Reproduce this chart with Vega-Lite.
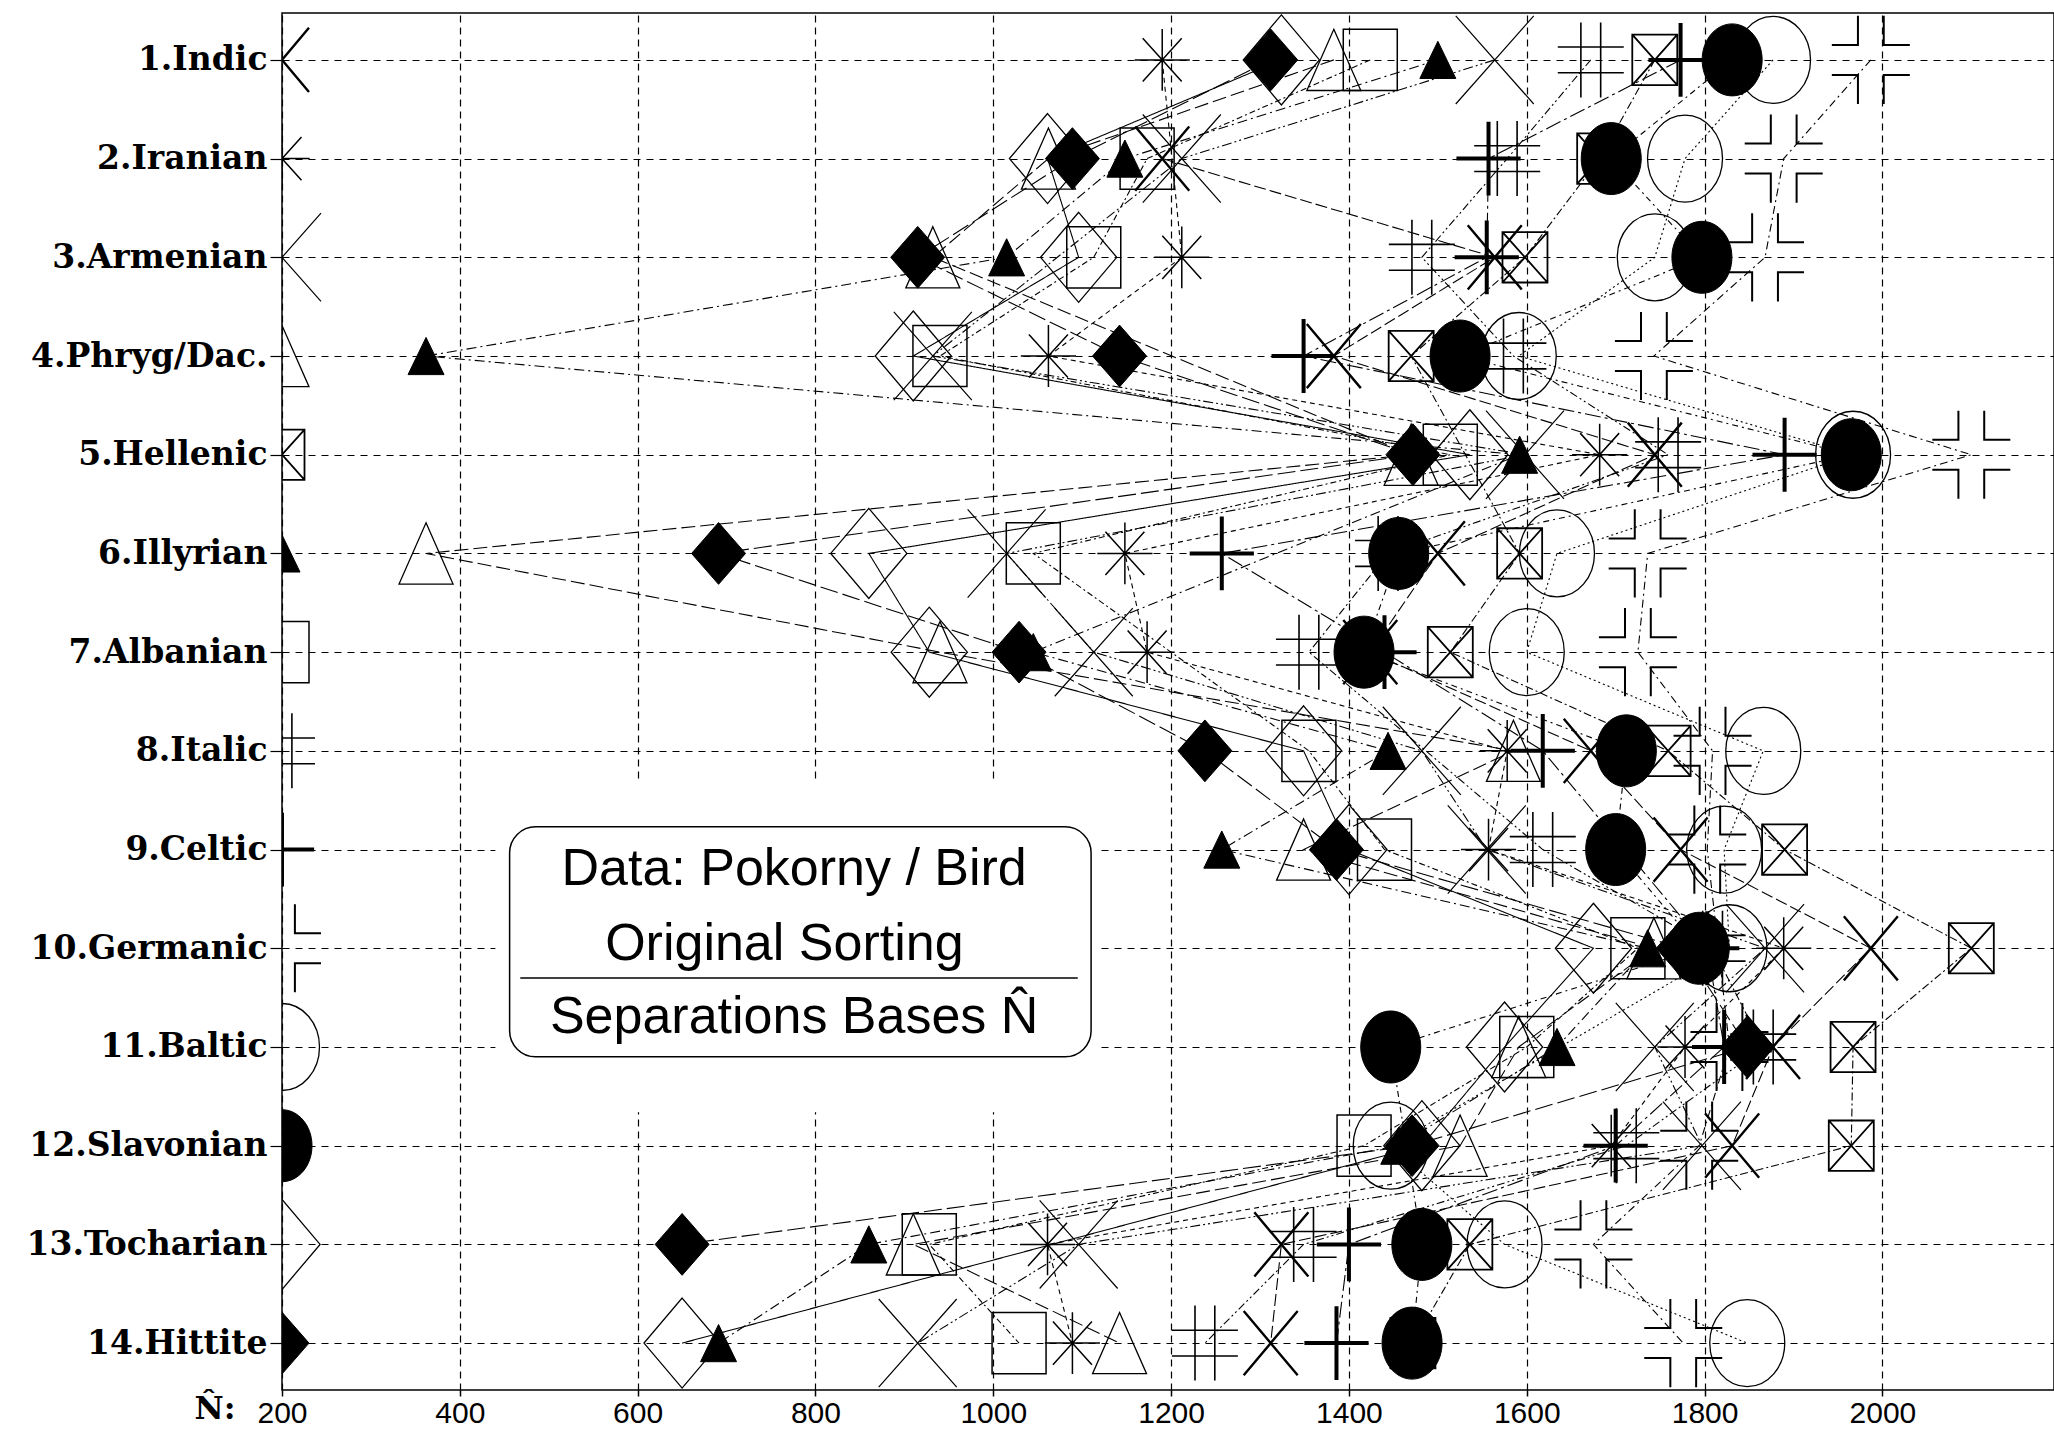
{
"$schema":"https://vega.github.io/schema/vega-lite/v6.json",
"width":1772,"height":1377,
"autosize":{"type":"none"},
"padding":{"left":282,"top":13,"right":0,"bottom":40},
"background":"white",
"config":{"view":{"stroke":"black","strokeWidth":1.5},"font":"Liberation Sans"},
"datasets":{"pts":[
{"ri":1,"s":"Indic","v":200},{"ri":1,"s":"Iranian","v":1190},{"ri":1,"s":"Armenian","v":1564},{"ri":1,"s":"Phryg","v":1383},{"ri":1,"s":"Hellenic","v":1744},{"ri":1,"s":"Illyrian","v":1500},{"ri":1,"s":"Albanian","v":1424},{"ri":1,"s":"Italic","v":1672},{"ri":1,"s":"Celtic","v":1773},{"ri":1,"s":"Germanic","v":1987},{"ri":1,"s":"Baltic","v":1877},{"ri":1,"s":"Slavonian","v":1831},{"ri":1,"s":"Tocharian","v":1324},{"ri":1,"s":"Hittite","v":1312},
{"ri":2,"s":"Indic","v":1190},{"ri":2,"s":"Iranian","v":200},{"ri":2,"s":"Armenian","v":1212},{"ri":2,"s":"Phryg","v":1062},{"ri":2,"s":"Hellenic","v":1682},{"ri":2,"s":"Illyrian","v":1148},{"ri":2,"s":"Albanian","v":1173},{"ri":2,"s":"Italic","v":1578},{"ri":2,"s":"Celtic","v":1557},{"ri":2,"s":"Germanic","v":1889},{"ri":2,"s":"Baltic","v":1778},{"ri":2,"s":"Slavonian","v":1695},{"ri":2,"s":"Tocharian","v":1061},{"ri":2,"s":"Hittite","v":1089},
{"ri":3,"s":"Indic","v":1564},{"ri":3,"s":"Iranian","v":1212},{"ri":3,"s":"Armenian","v":200},{"ri":3,"s":"Phryg","v":932},{"ri":3,"s":"Hellenic","v":1598},{"ri":3,"s":"Illyrian","v":1015},{"ri":3,"s":"Albanian","v":1113},{"ri":3,"s":"Italic","v":1482},{"ri":3,"s":"Celtic","v":1555},{"ri":3,"s":"Germanic","v":1868},{"ri":3,"s":"Baltic","v":1744},{"ri":3,"s":"Slavonian","v":1797},{"ri":3,"s":"Tocharian","v":1096},{"ri":3,"s":"Hittite","v":915},
{"ri":4,"s":"Indic","v":1383},{"ri":4,"s":"Iranian","v":1062},{"ri":4,"s":"Armenian","v":932},{"ri":4,"s":"Phryg","v":200},{"ri":4,"s":"Hellenic","v":1470},{"ri":4,"s":"Illyrian","v":362},{"ri":4,"s":"Albanian","v":940},{"ri":4,"s":"Italic","v":1585},{"ri":4,"s":"Celtic","v":1349},{"ri":4,"s":"Germanic","v":1743},{"ri":4,"s":"Baltic","v":1591},{"ri":4,"s":"Slavonian","v":1525},{"ri":4,"s":"Tocharian","v":910},{"ri":4,"s":"Hittite","v":1142},
{"ri":5,"s":"Indic","v":1744},{"ri":5,"s":"Iranian","v":1682},{"ri":5,"s":"Armenian","v":1598},{"ri":5,"s":"Phryg","v":1470},{"ri":5,"s":"Hellenic","v":200},{"ri":5,"s":"Illyrian","v":1592},{"ri":5,"s":"Albanian","v":1514},{"ri":5,"s":"Italic","v":1759},{"ri":5,"s":"Celtic","v":1890},{"ri":5,"s":"Germanic","v":2100},{"ri":5,"s":"Baltic","v":1967},{"ri":5,"s":"Slavonian","v":1965},{"ri":5,"s":"Tocharian","v":1536},{"ri":5,"s":"Hittite","v":1472},
{"ri":6,"s":"Indic","v":1500},{"ri":6,"s":"Iranian","v":1148},{"ri":6,"s":"Armenian","v":1015},{"ri":6,"s":"Phryg","v":362},{"ri":6,"s":"Hellenic","v":1592},{"ri":6,"s":"Illyrian","v":200},{"ri":6,"s":"Albanian","v":1045},{"ri":6,"s":"Italic","v":1444},{"ri":6,"s":"Celtic","v":1257},{"ri":6,"s":"Germanic","v":1736},{"ri":6,"s":"Baltic","v":1634},{"ri":6,"s":"Slavonian","v":1456},{"ri":6,"s":"Tocharian","v":860},{"ri":6,"s":"Hittite","v":691},
{"ri":7,"s":"Indic","v":1424},{"ri":7,"s":"Iranian","v":1173},{"ri":7,"s":"Armenian","v":1113},{"ri":7,"s":"Phryg","v":940},{"ri":7,"s":"Hellenic","v":1514},{"ri":7,"s":"Illyrian","v":1045},{"ri":7,"s":"Albanian","v":200},{"ri":7,"s":"Italic","v":1355},{"ri":7,"s":"Celtic","v":1440},{"ri":7,"s":"Germanic","v":1725},{"ri":7,"s":"Baltic","v":1600},{"ri":7,"s":"Slavonian","v":1417},{"ri":7,"s":"Tocharian","v":928},{"ri":7,"s":"Hittite","v":1029},
{"ri":8,"s":"Indic","v":1672},{"ri":8,"s":"Iranian","v":1578},{"ri":8,"s":"Armenian","v":1482},{"ri":8,"s":"Phryg","v":1585},{"ri":8,"s":"Hellenic","v":1759},{"ri":8,"s":"Illyrian","v":1444},{"ri":8,"s":"Albanian","v":1355},{"ri":8,"s":"Italic","v":200},{"ri":8,"s":"Celtic","v":1618},{"ri":8,"s":"Germanic","v":1809},{"ri":8,"s":"Baltic","v":1866},{"ri":8,"s":"Slavonian","v":1712},{"ri":8,"s":"Tocharian","v":1349},{"ri":8,"s":"Hittite","v":1238},
{"ri":9,"s":"Indic","v":1773},{"ri":9,"s":"Iranian","v":1557},{"ri":9,"s":"Armenian","v":1555},{"ri":9,"s":"Phryg","v":1349},{"ri":9,"s":"Hellenic","v":1890},{"ri":9,"s":"Illyrian","v":1257},{"ri":9,"s":"Albanian","v":1440},{"ri":9,"s":"Italic","v":1618},{"ri":9,"s":"Celtic","v":200},{"ri":9,"s":"Germanic","v":1803},{"ri":9,"s":"Baltic","v":1822},{"ri":9,"s":"Slavonian","v":1700},{"ri":9,"s":"Tocharian","v":1400},{"ri":9,"s":"Hittite","v":1386},
{"ri":10,"s":"Indic","v":1987},{"ri":10,"s":"Iranian","v":1889},{"ri":10,"s":"Armenian","v":1868},{"ri":10,"s":"Phryg","v":1743},{"ri":10,"s":"Hellenic","v":2100},{"ri":10,"s":"Illyrian","v":1736},{"ri":10,"s":"Albanian","v":1725},{"ri":10,"s":"Italic","v":1809},{"ri":10,"s":"Celtic","v":1803},{"ri":10,"s":"Germanic","v":200},{"ri":10,"s":"Baltic","v":1828},{"ri":10,"s":"Slavonian","v":1794},{"ri":10,"s":"Tocharian","v":1675},{"ri":10,"s":"Hittite","v":1776},
{"ri":11,"s":"Indic","v":1877},{"ri":11,"s":"Iranian","v":1778},{"ri":11,"s":"Armenian","v":1744},{"ri":11,"s":"Phryg","v":1591},{"ri":11,"s":"Hellenic","v":1967},{"ri":11,"s":"Illyrian","v":1634},{"ri":11,"s":"Albanian","v":1600},{"ri":11,"s":"Italic","v":1866},{"ri":11,"s":"Celtic","v":1822},{"ri":11,"s":"Germanic","v":1828},{"ri":11,"s":"Baltic","v":200},{"ri":11,"s":"Slavonian","v":1447},{"ri":11,"s":"Tocharian","v":1575},{"ri":11,"s":"Hittite","v":1848},
{"ri":12,"s":"Indic","v":1831},{"ri":12,"s":"Iranian","v":1695},{"ri":12,"s":"Armenian","v":1797},{"ri":12,"s":"Phryg","v":1525},{"ri":12,"s":"Hellenic","v":1965},{"ri":12,"s":"Illyrian","v":1456},{"ri":12,"s":"Albanian","v":1417},{"ri":12,"s":"Italic","v":1712},{"ri":12,"s":"Celtic","v":1700},{"ri":12,"s":"Germanic","v":1794},{"ri":12,"s":"Baltic","v":1447},{"ri":12,"s":"Slavonian","v":200},{"ri":12,"s":"Tocharian","v":1482},{"ri":12,"s":"Hittite","v":1471},
{"ri":13,"s":"Indic","v":1324},{"ri":13,"s":"Iranian","v":1061},{"ri":13,"s":"Armenian","v":1096},{"ri":13,"s":"Phryg","v":910},{"ri":13,"s":"Hellenic","v":1536},{"ri":13,"s":"Illyrian","v":860},{"ri":13,"s":"Albanian","v":928},{"ri":13,"s":"Italic","v":1349},{"ri":13,"s":"Celtic","v":1400},{"ri":13,"s":"Germanic","v":1675},{"ri":13,"s":"Baltic","v":1575},{"ri":13,"s":"Slavonian","v":1482},{"ri":13,"s":"Tocharian","v":200},{"ri":13,"s":"Hittite","v":650},
{"ri":14,"s":"Indic","v":1312},{"ri":14,"s":"Iranian","v":1089},{"ri":14,"s":"Armenian","v":915},{"ri":14,"s":"Phryg","v":1142},{"ri":14,"s":"Hellenic","v":1472},{"ri":14,"s":"Illyrian","v":691},{"ri":14,"s":"Albanian","v":1029},{"ri":14,"s":"Italic","v":1238},{"ri":14,"s":"Celtic","v":1386},{"ri":14,"s":"Germanic","v":1776},{"ri":14,"s":"Baltic","v":1848},{"ri":14,"s":"Slavonian","v":1471},{"ri":14,"s":"Tocharian","v":650},{"ri":14,"s":"Hittite","v":200}
]},
"encoding":{
"x":{"field":"v","type":"quantitative","scale":{"domain":[200,2193],"nice":false,"zero":false},
"axis":{"values":[200,400,600,800,1000,1200,1400,1600,1800,2000],"format":"d","labelFont":"Liberation Sans","labelFontSize":30,"labelColor":"black","labelFlush":false,"labelOverlap":false,"labelPadding":2,"tickSize":6,"tickColor":"black","tickWidth":1.5,"domain":false,"grid":true,"gridColor":"black","gridDash":[7,5],"gridWidth":1.2,"gridOpacity":1,"title":"N\u0302:","titleFont":"DejaVu Serif","titleFontWeight":"bold","titleFontSize":32,"titleColor":"black","titleX":-88,"titleY":18,"titleAlign":"left","titleBaseline":"middle","titleAngle":0}},
"y":{"field":"ri","type":"quantitative","scale":{"domain":[0.525,14.475],"reverse":true,"nice":false,"zero":false},
"axis":{"values":[1,2,3,4,5,6,7,8,9,10,11,12,13,14],"labelExpr":"['','1.Indic','2.Iranian','3.Armenian','4.Phryg/Dac.','5.Hellenic','6.Illyrian','7.Albanian','8.Italic','9.Celtic','10.Germanic','11.Baltic','12.Slavonian','13.Tocharian','14.Hittite'][datum.value]","labelFont":"DejaVu Serif","labelFontWeight":"bold","labelFontSize":33,"labelColor":"black","labelLimit":0,"labelFlush":false,"labelOverlap":false,"labelPadding":3,"tickSize":12,"tickColor":"black","tickWidth":1.2,"domain":false,"grid":true,"gridColor":"black","gridDash":[7,6],"gridWidth":1.2,"gridOpacity":1,"title":null}}
},
"layer":[
{"data":{"values":[{"v":440,"v2":1118,"ri":8.3,"ri2":11.66}]},"mark":{"type":"rect","fill":"white","strokeWidth":0},"encoding":{"x2":{"field":"v2"},"y2":{"field":"ri2"}}},
{"data":{"values":[{"v":456,"v2":1110,"ri":8.77,"ri2":11.1}]},"mark":{"type":"rect","fill":"white","stroke":"black","strokeWidth":1.5,"cornerRadius":26},"encoding":{"x2":{"field":"v2"},"y2":{"field":"ri2"}}},
{"data":{"values":[{"v":468,"v2":1095,"ri":10.3}]},"mark":{"type":"rule","color":"black","strokeWidth":1.5},"encoding":{"x2":{"field":"v2"}}},
{"data":{"values":[{"v":776,"ri":9.2,"t":"Data: Pokorny / Bird"},{"v":765,"ri":9.96,"t":"Original Sorting"},{"v":776,"ri":10.7,"t":"Separations Bases N\u0302"}]},"mark":{"type":"text","font":"Liberation Sans","fontSize":52,"color":"black","align":"center","baseline":"middle"},"encoding":{"text":{"field":"t"}}},
{"data":{"name":"pts"},"transform":[{"filter":"datum.v > 200"}],"mark":{"type":"line","color":"black","strokeWidth":1.1},
"encoding":{"detail":{"field":"s"},"order":{"field":"ri","type":"quantitative"},
"strokeDash":{"field":"s","type":"nominal","legend":null,"scale":{"domain":["Indic","Iranian","Armenian","Phryg","Hellenic","Illyrian","Albanian","Italic","Celtic","Germanic","Baltic","Slavonian","Tocharian","Hittite"],"range":[[12,4],[5,4],[10,3,2,3,2,3],[14,5],[8,3,2,3],[10,4,2,4],[6,3,2,3],[8,3,2,3,2,3],[16,4,3,4],[8,4,2,4],[2,3],[6,4,2,4],[1,0],[18,5]]}}}},
{"data":{"name":"pts"},"mark":{"type":"point","size":3600,"stroke":"black","opacity":1,"clip":true,"filled":false},
"encoding":{
"shape":{"field":"s","type":"nominal","legend":null,"scale":{"domain":["Indic","Iranian","Armenian","Phryg","Hellenic","Illyrian","Albanian","Italic","Celtic","Germanic","Baltic","Slavonian","Tocharian","Hittite"],"range":[
"M-0.9,-1.07L0.9,1.07M-0.9,1.07L0.9,-1.07",
"M0,-1.03L0,1.03M-0.92,0L0.92,0M-0.65,-0.72L0.65,0.72M-0.65,0.72L0.65,-0.72",
"M-1.3,-1.47L1.3,1.47M-1.3,1.47L1.3,-1.47",
"M0,-1.02L0.9,1.02L-0.9,1.02Z",
"M-0.75,-0.84L0.75,-0.84L0.75,0.84L-0.75,0.84ZM-0.75,-0.84L0.75,0.84M-0.75,0.84L0.75,-0.84",
"M0,-0.62L0.6,0.62L-0.6,0.62Z",
"M-0.9,-1.02L0.9,-1.02L0.9,1.02L-0.9,1.02Z",
"M-0.33,-1.25L-0.33,1.25M0.33,-1.25L0.33,1.25M-1.1,-0.43L1.1,-0.43M-1.1,0.43L1.1,0.43",
"M0,-1.23L0,1.23M-1.07,0L1.07,0",
"M0.43,-1.47L0.43,-0.5L1.3,-0.5M-0.43,-1.47L-0.43,-0.5L-1.3,-0.5M0.43,1.47L0.43,0.5L1.3,0.5M-0.43,1.47L-0.43,0.5L-1.3,0.5",
"M-1.25,0A1.25,1.45,0,1,0,1.25,0A1.25,1.45,0,1,0,-1.25,0Z",
"M-1,0A1,1.2,0,1,0,1,0A1,1.2,0,1,0,-1,0Z",
"M0,-1.5L1.27,0L0,1.5L-1.27,0Z",
"M0,-1.03L0.9,0L0,1.03L-0.9,0Z"]}},
"fill":{"field":"s","type":"nominal","legend":null,"scale":{"domain":["Indic","Iranian","Armenian","Phryg","Hellenic","Illyrian","Albanian","Italic","Celtic","Germanic","Baltic","Slavonian","Tocharian","Hittite"],"range":["transparent","transparent","transparent","transparent","transparent","black","transparent","transparent","transparent","transparent","transparent","black","transparent","black"]}},
"strokeWidth":{"field":"s","type":"nominal","legend":null,"scale":{"type":"ordinal","domain":["Indic","Iranian","Armenian","Phryg","Hellenic","Illyrian","Albanian","Italic","Celtic","Germanic","Baltic","Slavonian","Tocharian","Hittite"],"range":[2.4,1.5,1.2,1.3,1.8,1,1.5,1.6,4,2,1.3,1,1.3,1]}}
}}
]
}
